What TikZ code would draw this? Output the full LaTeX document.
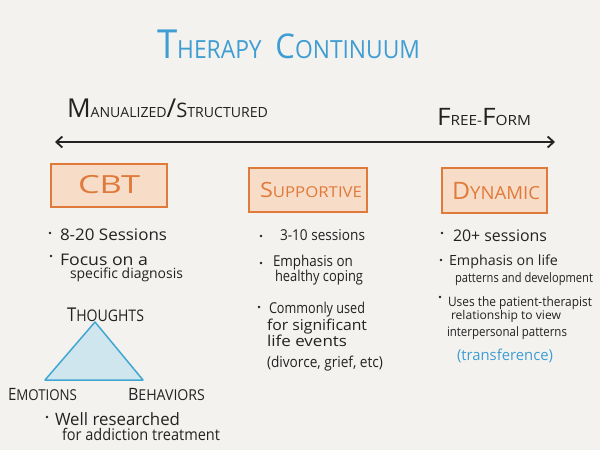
\documentclass[tikz,border=0pt]{standalone}
\usepackage{fontspec}
\setmainfont{Open Sans}
\usepackage{graphicx}
\usetikzlibrary{arrows.meta}
\definecolor{bgc}{HTML}{F3F2EF}
\definecolor{ink}{HTML}{222222}
\definecolor{tblue}{HTML}{3E9DD3}
\definecolor{oline}{HTML}{E07A3A}
\definecolor{ofill}{HTML}{F7DCC7}
\definecolor{trifill}{HTML}{D0E6EF}
\definecolor{tristroke}{HTML}{42A6D2}
\newcommand\Ln[7][ink]{\node[txt,text=#1] (#2) at (#3,#4) {\resizebox{#5pt}{\height}{\fontsize{#6}{#6}\selectfont #7}};}
\newcommand\Fs[2]{{\fontsize{#1}{#1}\selectfont #2}}
\begin{document}
\begin{tikzpicture}[x=1pt,y=-1pt,
  txt/.style={anchor=base west,inner sep=0pt,outer sep=0pt},
  bdot/.style={circle,fill=ink,inner sep=0pt,minimum size=2.6pt},
  obox/.style={draw=oline,fill=ofill,line width=1.8pt}]
\fill[bgc] (0,0) rectangle (600,450);
\useasboundingbox (0,0) rectangle (600,450);

% title
\Ln[tblue]{title}{157}{58}{263}{25}{\Fs{40}{T}HERAPY\hspace{0.6em}\Fs{34}{C}ONTINUUM}

% continuum labels
\Ln{manual}{67}{117}{201}{14}{\Fs{26}{M}ANUALIZED\Fs{26}{/}\Fs{20}{S}TRUCTURED}
\Ln{freeform}{437}{125}{94}{14}{\Fs{24}{F}REE-\Fs{24}{F}ORM}
\coordinate (arL) at (55,142);
\coordinate (arR) at (555,142);
\draw[ink,line width=1.8pt,{Straight Barb[length=6pt,width=11pt]}-{Straight Barb[length=6pt,width=11pt]}] (arL) -- (arR);

% boxes
\draw[obox] (51,164) rectangle (167,207);
\draw[obox] (249,168) rectangle (367,212);
\draw[obox] (442,168) rectangle (547,213);
\Ln[oline]{cbt}{78}{193}{62}{25}{CBT}
\Ln[oline]{supp}{260}{197}{102}{15}{\Fs{21}{S}UPPORTIVE}
\Ln[oline]{dyn}{452}{199}{88}{18}{\Fs{24}{D}YNAMIC}

% CBT column
\node[bdot] (c1d) at (50,233) {};
\Ln{c1}{60}{240}{107}{16}{8-20 Sessions}
\node[bdot] (c2d) at (51,256) {};
\Ln{c2}{60}{265}{88}{16}{Focus on a}
\Ln{c3}{70}{278}{113}{14}{specific diagnosis}
\Ln{thoughts}{67}{321}{77}{16}{\Fs{19}{T}HOUGHTS}
\coordinate (tA) at (95,322);
\coordinate (tB) at (45,380);
\coordinate (tC) at (143,380);
\filldraw[fill=trifill,draw=tristroke,line width=1.5pt,line join=round] (tA) -- (tB) -- (tC) -- cycle;
\Ln{emo}{8}{400}{69}{15}{\Fs{17}{E}MOTIONS}
\Ln{beh}{128}{400}{77}{15}{\Fs{17}{B}EHAVIORS}
\node[bdot] (c4d) at (47,417) {};
\Ln{c4}{55}{425}{125}{17}{Well researched}
\Ln{c5}{62}{440}{158}{16}{for addiction treatment}

% Supportive column
\node[bdot] (s1d) at (261,236) {};
\Ln{s1}{280}{240}{85}{15}{3-10 sessions}
\node[bdot] (s2d) at (261,263) {};
\Ln{s2}{273}{266}{80}{15}{Emphasis on}
\Ln{s3}{275}{281}{88}{15}{healthy coping}
\node[bdot] (s4d) at (259,307) {};
\Ln{s4}{269}{313}{96}{15}{Commonly used}
\Ln{s5}{267}{330}{100}{15}{for significant}
\Ln{s6}{267}{346}{80}{15}{life events}
\Ln{s7}{267}{367}{116}{15}{(divorce, grief, etc)}

% Dynamic column
\node[bdot] (d1d) at (442,233) {};
\Ln{d1}{453}{241}{94}{16}{20+ sessions}
\node[bdot] (d2d) at (441,260) {};
\Ln{d2}{449}{265}{109}{14}{Emphasis on life}
\Ln{d3}{455}{282}{138}{13}{patterns and development}
\node[bdot] (d4d) at (440,297) {};
\Ln{d4}{448}{306}{144}{13}{Uses the patient-therapist}
\Ln{d5}{451}{319}{110}{12}{relationship to view}
\Ln{d6}{447}{336}{120}{13}{interpersonal patterns}
\Ln[tblue]{d7}{457}{360}{96}{15}{(transference)}
\end{tikzpicture}
\end{document}
